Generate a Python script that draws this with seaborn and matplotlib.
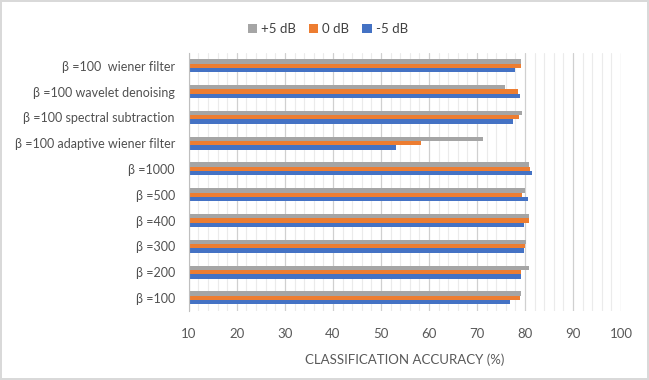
import matplotlib
matplotlib.use("Agg")
import matplotlib.pyplot as plt
from matplotlib.ticker import MultipleLocator
from matplotlib.patches import Patch
import pandas as pd
import seaborn as sns

categories = [
    "β =100  wiener filter",
    "β =100 wavelet denoising",
    "β =100 spectral subtraction",
    "β =100 adaptive wiener filter",
    "β =1000",
    "β =500",
    "β =400",
    "β =300",
    "β =200",
    "β =100",
]
series = ["+5 dB", "0 dB", "-5 dB"]
plus5 = [79.2, 75.9, 79.4, 71.3, 80.9, 80.0, 80.9, 80.2, 80.8, 79.2]
zero = [79.1, 78.5, 78.8, 58.4, 81.0, 79.4, 80.8, 80.0, 79.2, 79.0]
minus5 = [78.0, 79.0, 77.4, 53.2, 81.5, 80.6, 79.8, 79.7, 79.2, 76.9]
colors = ["#A5A5A5", "#ED7D31", "#4472C4"]

rows = []
for name, vals in zip(series, [plus5, zero, minus5]):
    for cat, v in zip(categories, vals):
        rows.append({"cat": cat, "snr": name, "acc": v})
df = pd.DataFrame(rows)

sns.set_style("white")
plt.rcParams["font.family"] = ["Lato", "DejaVu Sans"]

fig = plt.figure(figsize=(6.49, 3.8), dpi=100, edgecolor="#D9D9D9", linewidth=1.5)
ax = fig.add_axes([0.291, 0.182, 0.666, 0.679])

sns.barplot(data=df, x="acc", y="cat", hue="snr", hue_order=series,
            order=categories, palette=colors, width=0.5, orient="h",
            saturation=1, linewidth=0, ax=ax, legend=False)

ax.set_xlim(10, 100)
ax.xaxis.set_major_locator(MultipleLocator(10))
ax.xaxis.set_minor_locator(MultipleLocator(2))
ax.grid(axis="x", which="major", color="#D0D0D0", linewidth=0.9)
ax.grid(axis="x", which="minor", color="#EBEBEB", linewidth=0.8)
ax.set_axisbelow(True)

for s in ["top", "right", "bottom"]:
    ax.spines[s].set_visible(False)
ax.spines["left"].set_color("#BFBFBF")

ax.set_yticks([i + 0.5 for i in range(-1, len(categories))], minor=True)
ax.tick_params(axis="y", which="minor", length=3, color="#BFBFBF", direction="out")
ax.tick_params(axis="y", which="major", length=0, pad=10, labelsize=9, labelcolor="#505050")
ax.tick_params(axis="x", which="both", length=0, pad=12, labelsize=9.5, labelcolor="#595959")

ax.set_ylabel("")
ax.set_xlabel("CLASSIFICATION ACCURACY (%)", fontsize=9.5, color="#595959", labelpad=10)

handles = [Patch(facecolor=c, edgecolor="none") for c in colors]
fig.legend(handles, series, loc="center", bbox_to_anchor=(0.505, 0.924), ncol=3,
           frameon=False, fontsize=9.5, handlelength=0.7, handleheight=0.7,
           handletextpad=0.3, columnspacing=1.0, labelcolor="#404040")

fig.savefig("out.png", dpi=100)
